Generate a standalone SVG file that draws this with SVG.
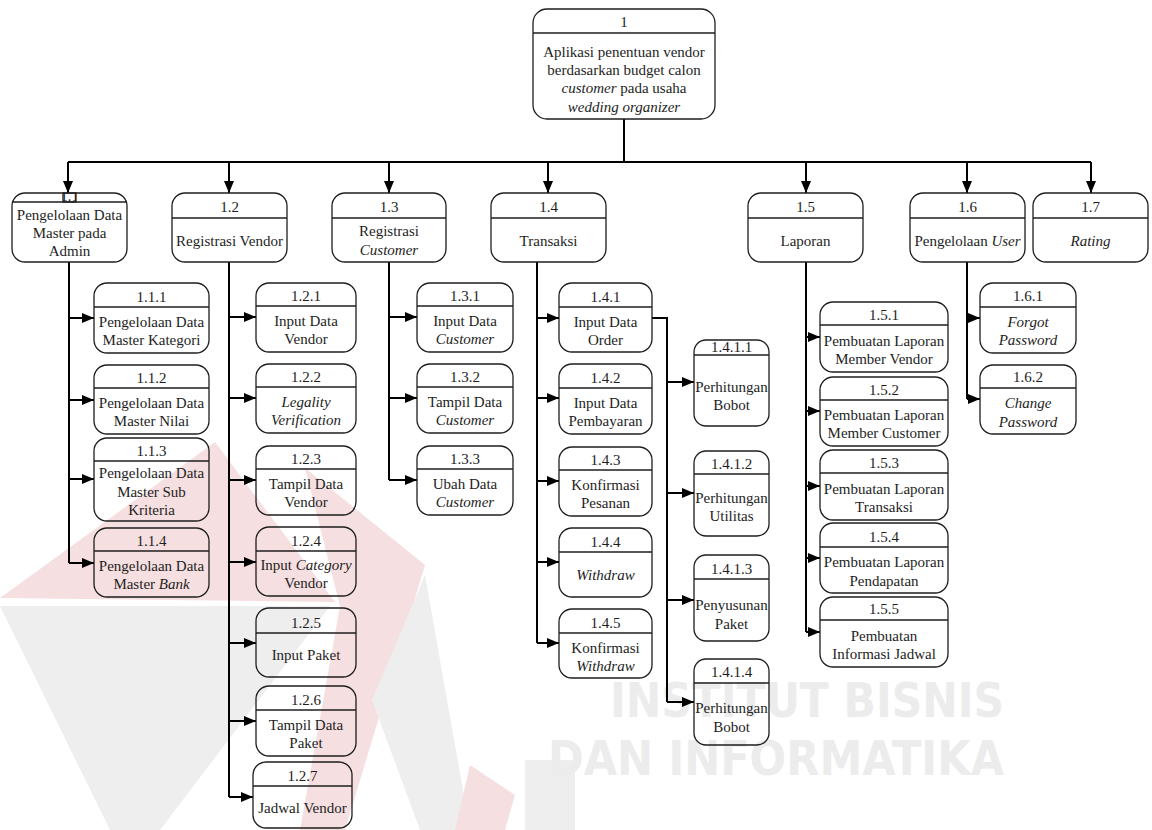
<svg xmlns="http://www.w3.org/2000/svg" width="1152" height="830" viewBox="0 0 1152 830">
<style>
.bx{fill:none;stroke:#1e1e1e;stroke-width:1.3}
.dv{stroke:#1e1e1e;stroke-width:1.3}
.t{font-family:"Liberation Serif","Times New Roman",serif;font-size:15px;fill:#1e1e1e;text-anchor:middle}
.i{font-style:italic}
.c{stroke:#000;stroke-width:2;fill:none}
.a{stroke:#000;stroke-width:2;fill:none;marker-end:url(#ar)}
.wm{font-family:"Liberation Sans Narrow","DejaVu Sans Condensed","Liberation Sans",sans-serif;font-weight:bold;font-size:48px;fill:#ececec}
.pk{fill:#f6dfe0}
.gy{fill:#eeeeee}
</style>
<defs>
<marker id="ar" markerUnits="userSpaceOnUse" markerWidth="12" markerHeight="10" refX="12" refY="5" orient="auto">
<path d="M0,0 L12,5 L0,10 z" fill="#000"/>
</marker>
<clipPath id="cl11"><rect x="63" y="193" width="13" height="9"/></clipPath>
</defs>

<g id="watermark">
<polygon class="pk" points="0,598 215,442 335,602"/>
<polygon class="gy" points="0,606 330,606 160,830 110,830"/>
<polygon class="pk" points="305,468 425,565 345,830 300,830 340,606"/>
<polygon class="gy" points="372,700 425,575 470,830 420,830"/>
<polygon class="pk" points="470,765 515,795 505,830 455,830"/>
<polygon class="gy" points="525,760 575,760 575,830 525,830"/>
<text class="wm" x="610" y="717" textLength="394" lengthAdjust="spacingAndGlyphs">INSTITUT BISNIS</text>
<text class="wm" x="548" y="775" textLength="456" lengthAdjust="spacingAndGlyphs">DAN INFORMATIKA</text>
</g>

<g id="connectors">
<path class="c" d="M624,119 V162 M68,162 H1091"/>
<path class="a" d="M68,162 V193"/>
<path class="a" d="M229,162 V193"/>
<path class="a" d="M389,162 V193"/>
<path class="a" d="M548,162 V193"/>
<path class="a" d="M806,162 V193"/>
<path class="a" d="M967,162 V193"/>
<path class="a" d="M1091,162 V193"/>
<path class="c" d="M69,262 V563"/>
<path class="a" d="M69,318 H94"/>
<path class="a" d="M69,400 H94"/>
<path class="a" d="M69,479 H94"/>
<path class="a" d="M69,563 H94"/>
<path class="c" d="M229,262 V797"/>
<path class="a" d="M229,317 H256"/>
<path class="a" d="M229,398 H256"/>
<path class="a" d="M229,480 H256"/>
<path class="a" d="M229,562 H256"/>
<path class="a" d="M229,643 H256"/>
<path class="a" d="M229,721 H256"/>
<path class="a" d="M229,797 H253"/>
<path class="c" d="M389,262 V480"/>
<path class="a" d="M389,317 H417"/>
<path class="a" d="M389,398 H417"/>
<path class="a" d="M389,480 H417"/>
<path class="c" d="M537,262 V643"/>
<path class="a" d="M537,318 H559"/>
<path class="a" d="M537,398 H559"/>
<path class="a" d="M537,481 H559"/>
<path class="a" d="M537,562 H559"/>
<path class="a" d="M537,643 H559"/>
<path class="c" d="M652,318 H667 V702"/>
<path class="a" d="M667,382 H694"/>
<path class="a" d="M667,493 H694"/>
<path class="a" d="M667,600 H694"/>
<path class="a" d="M667,702 H694"/>
<path class="c" d="M806,262 V632"/>
<path class="a" d="M806,337 H820"/>
<path class="a" d="M806,411 H820"/>
<path class="a" d="M806,486 H820"/>
<path class="a" d="M806,558 H820"/>
<path class="a" d="M806,632 H820"/>
<path class="c" d="M967,262 V399"/>
<path class="a" d="M967,318 H980"/>
<path class="a" d="M967,399 H980"/>
</g>

<g id="n1"><rect class="bx" x="533" y="9" width="182" height="110" rx="14"/><line class="dv" x1="533" y1="33" x2="715" y2="33"/>
<text class="t" x="624" y="27">1</text>
<text class="t" x="624" y="57">Aplikasi penentuan vendor</text>
<text class="t" x="624" y="75">berdasarkan budget calon</text>
<text class="t" x="624" y="93"><tspan class="i">customer</tspan> pada usaha</text>
<text class="t i" x="624" y="112">wedding organizer</text></g>

<g id="n1_1"><rect class="bx" x="12" y="193" width="115" height="69" rx="13"/><line class="dv" x1="12" y1="202" x2="127" y2="202"/>
<rect class="bx" x="63" y="193" width="13" height="9"/>
<text class="t" x="69.5" y="201" clip-path="url(#cl11)">1.1</text>
<text class="t" x="69.5" y="220">Pengelolaan Data</text>
<text class="t" x="69.5" y="238">Master pada</text>
<text class="t" x="69.5" y="256">Admin</text></g>

<g id="n1_2"><rect class="bx" x="172" y="193" width="115" height="69" rx="13"/><line class="dv" x1="172" y1="218" x2="287" y2="218"/>
<text class="t" x="229.5" y="212">1.2</text><text class="t" x="229.5" y="246">Registrasi Vendor</text></g>

<g id="n1_3"><rect class="bx" x="332" y="193" width="114" height="69" rx="13"/><line class="dv" x1="332" y1="218" x2="446" y2="218"/>
<text class="t" x="389" y="212">1.3</text><text class="t" x="389" y="236">Registrasi</text><text class="t i" x="389" y="255">Customer</text></g>

<g id="n1_4"><rect class="bx" x="491" y="193" width="115" height="69" rx="13"/><line class="dv" x1="491" y1="218" x2="606" y2="218"/>
<text class="t" x="548.5" y="212">1.4</text><text class="t" x="548.5" y="246">Transaksi</text></g>

<g id="n1_5"><rect class="bx" x="748" y="193" width="115" height="69" rx="13"/><line class="dv" x1="748" y1="218" x2="863" y2="218"/>
<text class="t" x="805.5" y="212">1.5</text><text class="t" x="805.5" y="246">Laporan</text></g>

<g id="n1_6"><rect class="bx" x="910" y="193" width="115" height="69" rx="13"/><line class="dv" x1="910" y1="218" x2="1025" y2="218"/>
<text class="t" x="967.5" y="212">1.6</text><text class="t" x="967.5" y="246">Pengelolaan <tspan class="i">User</tspan></text></g>

<g id="n1_7"><rect class="bx" x="1033" y="193" width="115" height="69" rx="13"/><line class="dv" x1="1033" y1="218" x2="1148" y2="218"/>
<text class="t" x="1090.5" y="212">1.7</text><text class="t i" x="1090.5" y="246">Rating</text></g>

<g id="n1_1_1"><rect class="bx" x="94" y="283" width="115" height="70" rx="13"/><line class="dv" x1="94" y1="307" x2="209" y2="307"/>
<text class="t" x="151.5" y="302">1.1.1</text><text class="t" x="151.5" y="327">Pengelolaan Data</text><text class="t" x="151.5" y="345">Master Kategori</text></g>
<g id="n1_1_2"><rect class="bx" x="94" y="365" width="115" height="69" rx="13"/><line class="dv" x1="94" y1="388" x2="209" y2="388"/>
<text class="t" x="151.5" y="383">1.1.2</text><text class="t" x="151.5" y="408">Pengelolaan Data</text><text class="t" x="151.5" y="426">Master Nilai</text></g>
<g id="n1_1_3"><rect class="bx" x="94" y="438" width="115" height="83" rx="13"/><line class="dv" x1="94" y1="461" x2="209" y2="461"/>
<text class="t" x="151.5" y="456">1.1.3</text><text class="t" x="151.5" y="478">Pengelolaan Data</text><text class="t" x="151.5" y="497">Master Sub</text><text class="t" x="151.5" y="515">Kriteria</text></g>
<g id="n1_1_4"><rect class="bx" x="94" y="528" width="115" height="69" rx="13"/><line class="dv" x1="94" y1="551" x2="209" y2="551"/>
<text class="t" x="151.5" y="546">1.1.4</text><text class="t" x="151.5" y="571">Pengelolaan Data</text><text class="t" x="151.5" y="589">Master <tspan class="i">Bank</tspan></text></g>

<g id="n1_2_1"><rect class="bx" x="256" y="283" width="100" height="69" rx="13"/><line class="dv" x1="256" y1="306" x2="356" y2="306"/>
<text class="t" x="306" y="301">1.2.1</text><text class="t" x="306" y="326">Input Data</text><text class="t" x="306" y="344">Vendor</text></g>
<g id="n1_2_2"><rect class="bx" x="256" y="364" width="100" height="69" rx="13"/><line class="dv" x1="256" y1="387" x2="356" y2="387"/>
<text class="t" x="306" y="382">1.2.2</text><text class="t i" x="306" y="407">Legality</text><text class="t i" x="306" y="425">Verification</text></g>
<g id="n1_2_3"><rect class="bx" x="256" y="446" width="100" height="69" rx="13"/><line class="dv" x1="256" y1="469" x2="356" y2="469"/>
<text class="t" x="306" y="464">1.2.3</text><text class="t" x="306" y="489">Tampil Data</text><text class="t" x="306" y="507">Vendor</text></g>
<g id="n1_2_4"><rect class="bx" x="256" y="527" width="100" height="69" rx="13"/><line class="dv" x1="256" y1="551" x2="356" y2="551"/>
<text class="t" x="306" y="546">1.2.4</text><text class="t" x="306" y="570">Input <tspan class="i">Category</tspan></text><text class="t" x="306" y="588">Vendor</text></g>
<g id="n1_2_5"><rect class="bx" x="256" y="608" width="100" height="69" rx="13"/><line class="dv" x1="256" y1="633" x2="356" y2="633"/>
<text class="t" x="306" y="628">1.2.5</text><text class="t" x="306" y="660">Input Paket</text></g>
<g id="n1_2_6"><rect class="bx" x="256" y="686" width="100" height="70" rx="13"/><line class="dv" x1="256" y1="710" x2="356" y2="710"/>
<text class="t" x="306" y="705">1.2.6</text><text class="t" x="306" y="730">Tampil Data</text><text class="t" x="306" y="748">Paket</text></g>
<g id="n1_2_7"><rect class="bx" x="253" y="762" width="99" height="66" rx="13"/><line class="dv" x1="253" y1="786" x2="352" y2="786"/>
<text class="t" x="302.5" y="781">1.2.7</text><text class="t" x="302.5" y="813">Jadwal Vendor</text></g>

<g id="n1_3_1"><rect class="bx" x="417" y="283" width="96" height="69" rx="13"/><line class="dv" x1="417" y1="306" x2="513" y2="306"/>
<text class="t" x="465" y="301">1.3.1</text><text class="t" x="465" y="326">Input Data</text><text class="t i" x="465" y="344">Customer</text></g>
<g id="n1_3_2"><rect class="bx" x="417" y="364" width="96" height="69" rx="13"/><line class="dv" x1="417" y1="387" x2="513" y2="387"/>
<text class="t" x="465" y="382">1.3.2</text><text class="t" x="465" y="407">Tampil Data</text><text class="t i" x="465" y="425">Customer</text></g>
<g id="n1_3_3"><rect class="bx" x="417" y="446" width="96" height="69" rx="13"/><line class="dv" x1="417" y1="469" x2="513" y2="469"/>
<text class="t" x="465" y="464">1.3.3</text><text class="t" x="465" y="489">Ubah Data</text><text class="t i" x="465" y="507">Customer</text></g>

<g id="n1_4_1"><rect class="bx" x="559" y="283" width="93" height="69" rx="13"/><line class="dv" x1="559" y1="307" x2="652" y2="307"/>
<text class="t" x="605.5" y="302">1.4.1</text><text class="t" x="605.5" y="327">Input Data</text><text class="t" x="605.5" y="345">Order</text></g>
<g id="n1_4_2"><rect class="bx" x="559" y="364" width="93" height="70" rx="13"/><line class="dv" x1="559" y1="388" x2="652" y2="388"/>
<text class="t" x="605.5" y="383">1.4.2</text><text class="t" x="605.5" y="408">Input Data</text><text class="t" x="605.5" y="426">Pembayaran</text></g>
<g id="n1_4_3"><rect class="bx" x="559" y="447" width="93" height="69" rx="13"/><line class="dv" x1="559" y1="470" x2="652" y2="470"/>
<text class="t" x="605.5" y="465">1.4.3</text><text class="t" x="605.5" y="490">Konfirmasi</text><text class="t" x="605.5" y="508">Pesanan</text></g>
<g id="n1_4_4"><rect class="bx" x="559" y="528" width="93" height="69" rx="13"/><line class="dv" x1="559" y1="552" x2="652" y2="552"/>
<text class="t" x="605.5" y="547">1.4.4</text><text class="t i" x="605.5" y="580">Withdraw</text></g>
<g id="n1_4_5"><rect class="bx" x="559" y="609" width="93" height="69" rx="13"/><line class="dv" x1="559" y1="633" x2="652" y2="633"/>
<text class="t" x="605.5" y="628">1.4.5</text><text class="t" x="605.5" y="653">Konfirmasi</text><text class="t i" x="605.5" y="671">Withdraw</text></g>

<g id="n1_4_1_1"><rect class="bx" x="694" y="340" width="75" height="86" rx="12"/><line class="dv" x1="694" y1="355" x2="769" y2="355"/>
<text class="t" x="731.5" y="352">1.4.1.1</text><text class="t" x="731.5" y="392">Perhitungan</text><text class="t" x="731.5" y="410">Bobot</text></g>
<g id="n1_4_1_2"><rect class="bx" x="694" y="451" width="75" height="85" rx="12"/><line class="dv" x1="694" y1="474" x2="769" y2="474"/>
<text class="t" x="731.5" y="469">1.4.1.2</text><text class="t" x="731.5" y="503">Perhitungan</text><text class="t" x="731.5" y="521">Utilitas</text></g>
<g id="n1_4_1_3"><rect class="bx" x="694" y="555" width="75" height="86" rx="12"/><line class="dv" x1="694" y1="579" x2="769" y2="579"/>
<text class="t" x="731.5" y="574">1.4.1.3</text><text class="t" x="731.5" y="610">Penyusunan</text><text class="t" x="731.5" y="629">Paket</text></g>
<g id="n1_4_1_4"><rect class="bx" x="694" y="659" width="75" height="86" rx="12"/><line class="dv" x1="694" y1="683" x2="769" y2="683"/>
<text class="t" x="731.5" y="677">1.4.1.4</text><text class="t" x="731.5" y="713">Perhitungan</text><text class="t" x="731.5" y="732">Bobot</text></g>

<g id="n1_5_1"><rect class="bx" x="820" y="302" width="128" height="70" rx="13"/><line class="dv" x1="820" y1="325" x2="948" y2="325"/>
<text class="t" x="884" y="320">1.5.1</text><text class="t" x="884" y="346">Pembuatan Laporan</text><text class="t" x="884" y="364">Member Vendor</text></g>
<g id="n1_5_2"><rect class="bx" x="820" y="377" width="128" height="69" rx="13"/><line class="dv" x1="820" y1="400" x2="948" y2="400"/>
<text class="t" x="884" y="395">1.5.2</text><text class="t" x="884" y="420">Pembuatan Laporan</text><text class="t" x="884" y="438">Member Customer</text></g>
<g id="n1_5_3"><rect class="bx" x="820" y="450" width="128" height="70" rx="13"/><line class="dv" x1="820" y1="473" x2="948" y2="473"/>
<text class="t" x="884" y="468">1.5.3</text><text class="t" x="884" y="494">Pembuatan Laporan</text><text class="t" x="884" y="512">Transaksi</text></g>
<g id="n1_5_4"><rect class="bx" x="820" y="523" width="128" height="70" rx="13"/><line class="dv" x1="820" y1="547" x2="948" y2="547"/>
<text class="t" x="884" y="542">1.5.4</text><text class="t" x="884" y="567">Pembuatan Laporan</text><text class="t" x="884" y="586">Pendapatan</text></g>
<g id="n1_5_5"><rect class="bx" x="820" y="597" width="128" height="70" rx="13"/><line class="dv" x1="820" y1="620" x2="948" y2="620"/>
<text class="t" x="884" y="614">1.5.5</text><text class="t" x="884" y="641">Pembuatan</text><text class="t" x="884" y="659">Informasi Jadwal</text></g>

<g id="n1_6_1"><rect class="bx" x="980" y="283" width="96" height="70" rx="13"/><line class="dv" x1="980" y1="307" x2="1076" y2="307"/>
<text class="t" x="1028" y="301">1.6.1</text><text class="t i" x="1028" y="327">Forgot</text><text class="t i" x="1028" y="345">Password</text></g>
<g id="n1_6_2"><rect class="bx" x="980" y="365" width="96" height="69" rx="13"/><line class="dv" x1="980" y1="388" x2="1076" y2="388"/>
<text class="t" x="1028" y="382">1.6.2</text><text class="t i" x="1028" y="408">Change</text><text class="t i" x="1028" y="427">Password</text></g>
</svg>
